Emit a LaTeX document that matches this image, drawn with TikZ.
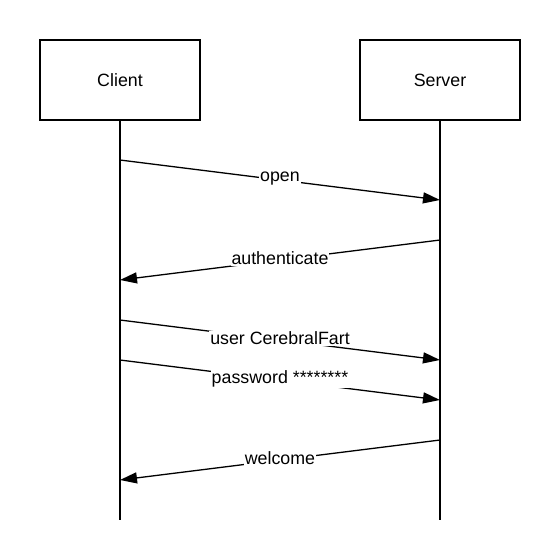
\documentclass[tikz,border=0pt]{standalone}
\usepackage{fontspec}
\setmainfont{Liberation Sans}
\usetikzlibrary{arrows.meta}

\begin{document}
\begin{tikzpicture}[x=1pt,y=-1pt,line width=1.3pt,
    every node/.style={font=\fontsize{17.8}{21}\selectfont},
    actor/.style={draw,minimum width=160pt,minimum height=80pt,inner sep=0pt},
    msg/.style={-{Triangle[length=17pt,width=11pt]}},
    lbl/.style={fill=white,inner sep=1pt,yshift=1.5pt}]
                \useasboundingbox (0,0) rectangle (560,560);
                \node[actor] (client) at (120,80) {Client};
                \node[actor] (server) at (440,80) {Server};
                \coordinate (client end) at (120,520);
                \coordinate (server end) at (440,520);
                \draw (client) -- (client end);
                \draw (server) -- (server end);

                \foreach \y in {160,200,...,480}{
                    \coordinate (c\y) at (120,\y);
                    \coordinate (s\y) at (440,\y);
                }

                \draw[msg] (c160) -- node[lbl] {open} (s200);
                \draw[msg] (s240) -- node[lbl] {authenticate} (c280);
                \draw[msg] (c320) -- node[lbl] {user CerebralFart} (s360);
                \draw[msg] (c360) -- node[lbl] {password ********} (s400);
                \draw[msg] (s440) -- node[lbl] {welcome} (c480);
            \end{tikzpicture}
\end{document}
